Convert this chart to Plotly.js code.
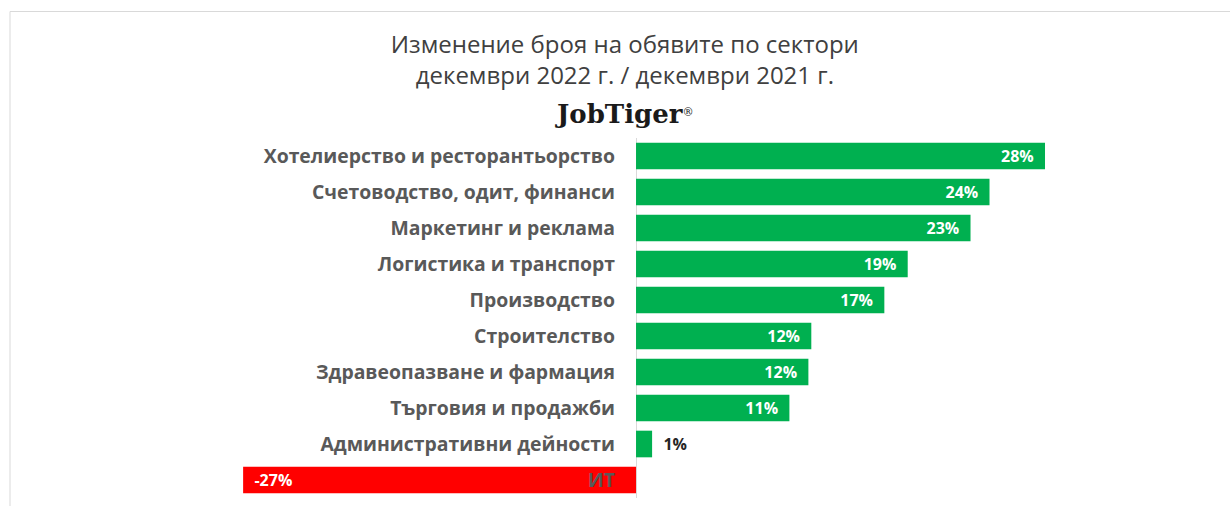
<!DOCTYPE html>
<html>
<head>
<meta charset="utf-8">
<script src="https://cdn.plot.ly/plotly-3.0.1.min.js"></script>
<style>
html,body{margin:0;padding:0;background:#fff;}
#chart{width:1230px;height:506px;}
</style>
</head>
<body>
<div id="chart"></div>
<script>
const categories = [
  'Хотелиерство и ресторантьорство',
  'Счетоводство, одит, финанси',
  'Маркетинг и реклама',
  'Логистика и транспорт',
  'Производство',
  'Строителство',
  'Здравеопазване и фармация',
  'Търговия и продажби',
  'Административни дейности',
  'ИТ'
];
const values = [28.0, 24.2, 22.9, 18.6, 17.0, 12.0, 11.8, 10.5, 1.1, -26.9];
const titleLines = ['Изменение броя на обявите по сектори', 'декември 2022 г. / декември 2021 г.'];
const brand = 'JobTiger';

const NB = '\u00a0';
const colors = values.map(v => v < 0 ? '#FF0000' : '#00B050');
const positions = values.map(v => Math.abs(v) < 3 ? 'outside' : 'inside');
const texts = values.map(v => {
  const s = Math.round(v) + '%';
  if (v < 0) return NB + NB + s;
  if (Math.abs(v) < 3) return NB + NB + s;
  return s + NB + NB;
});

const r0 = -42.86, r1 = 39.98;

const trace = {
  type: 'bar',
  orientation: 'h',
  y: categories,
  x: values,
  marker: {color: colors, line: {width: 0}},
  text: texts,
  textposition: positions,
  insidetextanchor: 'end',
  constraintext: 'none',
  cliponaxis: false,
  insidetextfont: {family: 'Open Sans', size: 16, color: '#ffffff', weight: 'bold'},
  outsidetextfont: {family: 'Open Sans', size: 16, color: '#262626', weight: 'bold'},
  textfont: {family: 'Open Sans', size: 16, weight: 'bold'},
  hoverinfo: 'skip'
};

const layout = {
  width: 1230,
  height: 506,
  margin: {l: 10, r: 10, t: 138, b: 8},
  paper_bgcolor: '#ffffff',
  plot_bgcolor: '#ffffff',
  bargap: 0.26,
  showlegend: false,
  title: {
    text: titleLines.join('<br>'),
    font: {family: 'Open Sans', size: 24, color: '#404040'},
    x: 0.508, xanchor: 'center',
    y: 0.895, yanchor: 'top', yref: 'container'
  },
  xaxis: {
    range: [r0, r1],
    showgrid: false,
    zeroline: true,
    zerolinecolor: '#d9d9d9',
    zerolinewidth: 1,
    showticklabels: false,
    ticks: '',
    fixedrange: true
  },
  yaxis: {
    autorange: 'reversed',
    anchor: 'free',
    position: (0 - r0) / (r1 - r0),
    showgrid: false,
    zeroline: false,
    showline: false,
    ticks: '',
    ticklabelstandoff: 21,
    tickfont: {family: 'Open Sans', size: 19.4, color: '#595959', weight: 'bold'},
    layer: 'above traces',
    fixedrange: true
  },
  annotations: [{
    xref: 'paper', yref: 'paper',
    x: 0.508, y: 1.0 + (138 - 114) / 360,
    xanchor: 'center', yanchor: 'middle',
    text: '<b>' + brand + '</b><span style="font-size:16px"><sup>®</sup></span>',
    showarrow: false,
    font: {family: 'DejaVu Serif', size: 26, color: '#1a1a1a'}
  }],
  shapes: [{
    type: 'rect', xref: 'paper', yref: 'paper',
    x0: 0, x1: 1.05, y0: -0.1, y1: (498 - 11.5) / 360,
    line: {color: '#d9d9d9', width: 1},
    fillcolor: 'rgba(0,0,0,0)',
    layer: 'below'
  }]
};

Plotly.newPlot('chart', [trace], layout, {displayModeBar: false, staticPlot: true});
</script>
</body>
</html>
